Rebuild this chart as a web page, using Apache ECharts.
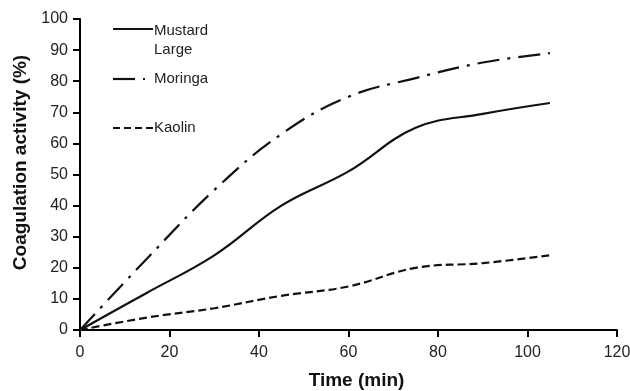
<!DOCTYPE html>
<html>
<head>
<meta charset="utf-8">
<script src="https://cdn.jsdelivr.net/npm/echarts@6/dist/echarts.min.js"></script>
<style>html,body{margin:0;padding:0;background:#fff}#c{width:630px;height:391px}</style>
</head>
<body>
<div id="c"></div>
<script>
var times = [0, 15, 30, 45, 60, 75, 90, 105];
var mustardLarge = [0, 12, 24, 40, 51, 65, 69.5, 73];
var moringa = [0, 23, 45, 63, 75, 81, 86, 89];
var kaolin = [0, 4, 7, 11, 14, 20, 21.5, 24];
var xTicks = [0, 20, 40, 60, 80, 100, 120];
var yTicks = [0, 10, 20, 30, 40, 50, 60, 70, 80, 90, 100];
var legendNames = ['Mustard\nLarge', 'Moringa', 'Kaolin'];

function pairs(ys) { return times.map(function (t, i) { return [t, ys[i]]; }); }

var chart = echarts.init(document.getElementById('c'), null, {renderer: 'canvas'});
var font = 'Liberation Sans, Arial, Helvetica, sans-serif';
function axisTick() { return {show: true, inside: false, length: 7, interval: 0, lineStyle: {color: '#000', width: 2, opacity: 1}}; }
function axisLine() { return {show: true, onZero: false, lineStyle: {color: '#000', width: 2}}; }
function lineSeries(name, ys, dash) {
  return {
    name: name, type: 'line', data: pairs(ys), smooth: 0.4, showSymbol: false, symbol: 'none',
    lineStyle: {color: '#111', width: 2.2, type: dash}
  };
}
var option = {
  animation: false,
  backgroundColor: '#fff',
  grid: {left: 80, right: 13, top: 19, bottom: 61, containLabel: false, outerBoundsMode: 'none'},
  xAxis: {
    type: 'value', min: xTicks[0], max: xTicks[xTicks.length - 1], interval: xTicks[1] - xTicks[0],
    name: 'Time (min)', nameLocation: 'middle', nameGap: 41,
    nameTextStyle: {fontSize: 19, fontWeight: 'bold', color: '#111', fontFamily: font, padding: [0, 0, 0, 16]},
    axisLine: axisLine(), axisTick: axisTick(), splitLine: {show: false},
    axisLabel: {color: '#222', fontSize: 16, fontFamily: font, margin: 15}
  },
  yAxis: {
    type: 'value', min: yTicks[0], max: yTicks[yTicks.length - 1], interval: yTicks[1] - yTicks[0],
    name: 'Coagulation activity (%)', nameLocation: 'middle', nameGap: 41,
    nameTextStyle: {fontSize: 19, fontWeight: 'bold', color: '#111', fontFamily: font, padding: [0, 0, 0, 24]},
    axisLine: axisLine(), axisTick: axisTick(), splitLine: {show: false},
    axisLabel: {color: '#222', fontSize: 16, fontFamily: font, margin: 12}
  },
  series: [
    lineSeries(legendNames[0], mustardLarge, 'solid'),
    lineSeries(legendNames[1], moringa, [22, 8, 3, 8]),
    lineSeries(legendNames[2], kaolin, [8, 4])
  ],
  graphic: [
    {type: 'line', shape: {x1: 113, y1: 29, x2: 153, y2: 29}, style: {stroke: '#111', lineWidth: 2.2}},
    {type: 'text', left: 154, top: 21, style: {text: legendNames[0], font: '15px ' + font, fill: '#222', lineHeight: 19}},
    {type: 'line', shape: {x1: 113, y1: 79, x2: 135, y2: 79}, style: {stroke: '#111', lineWidth: 2.2}},
    {type: 'line', shape: {x1: 143, y1: 79, x2: 145, y2: 79}, style: {stroke: '#111', lineWidth: 2.2}},
    {type: 'text', left: 154, top: 71, style: {text: legendNames[1], font: '15px ' + font, fill: '#222'}},
    {type: 'line', shape: {x1: 113, y1: 128, x2: 153, y2: 128}, style: {stroke: '#111', lineWidth: 2.2, lineDash: [7, 4]}},
    {type: 'text', left: 154, top: 120, style: {text: legendNames[2], font: '15px ' + font, fill: '#222'}}
  ]
};
chart.setOption(option);
</script>
</body>
</html>
